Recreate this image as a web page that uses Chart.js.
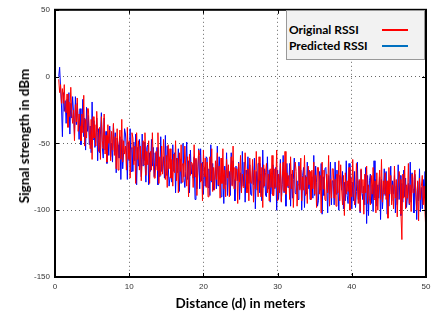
<!DOCTYPE html>
<html><head><meta charset="utf-8">
<script src="https://cdn.jsdelivr.net/npm/chart.js@4/dist/chart.umd.min.js"></script>
<style>
html,body{margin:0;padding:0;background:#fff;}
#wrap{position:relative;width:437px;height:312px;}
#legend{position:absolute;left:286px;top:10px;width:139px;height:50px;background:#f2f2f2;border:1px solid #999;box-sizing:border-box;font-family:Lato,"Open Sans",sans-serif;font-weight:bold;font-size:12px;color:#000;}
#legend .row{position:absolute;left:2px;}
#legend .ln{position:absolute;height:2px;width:26px;left:95px;}
#ytitle{position:absolute;left:24px;top:136px;transform:translate(-50%,-50%) rotate(-90deg);white-space:nowrap;font-family:Lato,"Open Sans",sans-serif;font-weight:bold;font-size:13.5px;color:#000;}
</style></head><body>
<div id="wrap"><canvas id="c" width="437" height="312"></canvas>
<div id="ytitle">Signal strength in dBm</div>
<div id="legend">
<div class="row" style="top:11px">Original RSSI</div><div class="ln" style="top:18px;background:#ff0000"></div>
<div class="row" style="top:27px">Predicted RSSI</div><div class="ln" style="top:34px;background:#0070c0"></div>
</div></div>
<script>
const distances = [
0.5,0.625,0.75,0.875,1,1.125,1.25,1.375,
1.5,1.625,1.75,1.875,2,2.125,2.25,2.375,
2.5,2.625,2.75,2.875,3,3.125,3.25,3.375,
3.5,3.625,3.75,3.875,4,4.125,4.25,4.375,
4.5,4.625,4.75,4.875,5,5.125,5.25,5.375,
5.5,5.625,5.75,5.875,6,6.125,6.25,6.375,
6.5,6.625,6.75,6.875,7,7.125,7.25,7.375,
7.5,7.625,7.75,7.875,8,8.125,8.25,8.375,
8.5,8.625,8.75,8.875,9,9.125,9.25,9.375,
9.5,9.625,9.75,9.875,10,10.125,10.25,10.375,
10.5,10.625,10.75,10.875,11,11.125,11.25,11.375,
11.5,11.625,11.75,11.875,12,12.125,12.25,12.375,
12.5,12.625,12.75,12.875,13,13.125,13.25,13.375,
13.5,13.625,13.75,13.875,14,14.125,14.25,14.375,
14.5,14.625,14.75,14.875,15,15.125,15.25,15.375,
15.5,15.625,15.75,15.875,16,16.125,16.25,16.375,
16.5,16.625,16.75,16.875,17,17.125,17.25,17.375,
17.5,17.625,17.75,17.875,18,18.125,18.25,18.375,
18.5,18.625,18.75,18.875,19,19.125,19.25,19.375,
19.5,19.625,19.75,19.875,20,20.125,20.25,20.375,
20.5,20.625,20.75,20.875,21,21.125,21.25,21.375,
21.5,21.625,21.75,21.875,22,22.125,22.25,22.375,
22.5,22.625,22.75,22.875,23,23.125,23.25,23.375,
23.5,23.625,23.75,23.875,24,24.125,24.25,24.375,
24.5,24.625,24.75,24.875,25,25.125,25.25,25.375,
25.5,25.625,25.75,25.875,26,26.125,26.25,26.375,
26.5,26.625,26.75,26.875,27,27.125,27.25,27.375,
27.5,27.625,27.75,27.875,28,28.125,28.25,28.375,
28.5,28.625,28.75,28.875,29,29.125,29.25,29.375,
29.5,29.625,29.75,29.875,30,30.125,30.25,30.375,
30.5,30.625,30.75,30.875,31,31.125,31.25,31.375,
31.5,31.625,31.75,31.875,32,32.125,32.25,32.375,
32.5,32.625,32.75,32.875,33,33.125,33.25,33.375,
33.5,33.625,33.75,33.875,34,34.125,34.25,34.375,
34.5,34.625,34.75,34.875,35,35.125,35.25,35.375,
35.5,35.625,35.75,35.875,36,36.125,36.25,36.375,
36.5,36.625,36.75,36.875,37,37.125,37.25,37.375,
37.5,37.625,37.75,37.875,38,38.125,38.25,38.375,
38.5,38.625,38.75,38.875,39,39.125,39.25,39.375,
39.5,39.625,39.75,39.875,40,40.125,40.25,40.375,
40.5,40.625,40.75,40.875,41,41.125,41.25,41.375,
41.5,41.625,41.75,41.875,42,42.125,42.25,42.375,
42.5,42.625,42.75,42.875,43,43.125,43.25,43.375,
43.5,43.625,43.75,43.875,44,44.125,44.25,44.375,
44.5,44.625,44.75,44.875,45,45.125,45.25,45.375,
45.5,45.625,45.75,45.875,46,46.125,46.25,46.375,
46.5,46.625,46.75,46.875,47,47.125,47.25,47.375,
47.5,47.625,47.75,47.875,48,48.125,48.25,48.375,
48.5,48.625,48.75,48.875,49,49.125,49.25,49.375,
49.5,49.625,49.75,49.875,50
];
const originalRSSI = [
-2,-12,-6,-20,-9,-20,-6,-26,
-27,-13,-38,-19,-30,-8,-26,-35,
-25,-48,-21,-34,-16,-41,-28,-37,
-48,-28,-42,-14,-52,-32,-46,-24,
-24,-42,-54,-32,-62,-30,-46,-36,
-52,-26,-42,-56,-38,-62,-30,-48,
-54,-28,-58,-44,-64,-36,-50,-40,
-63,-41,-55,-35,-59,-45,-69,-39,
-70,-52,-40,-62,-32,-64,-48,-58,
-52,-70,-38,-62,-48,-76,-54,-42,
-46,-66,-52,-80,-42,-62,-48,-70,
-52,-78,-62,-48,-66,-42,-74,-56,
-66,-48,-80,-56,-70,-42,-64,-76,
-76,-56,-70,-42,-80,-60,-74,-52,
-73,-47,-63,-77,-59,-83,-51,-69,
-54,-76,-62,-82,-58,-72,-48,-78,
-61,-87,-57,-71,-51,-79,-65,-75,
-52,-70,-82,-60,-90,-58,-74,-64,
-65,-83,-51,-75,-61,-89,-67,-55,
-59,-79,-65,-93,-55,-75,-61,-83,
-64,-90,-74,-60,-78,-54,-86,-68,
-85,-63,-77,-57,-81,-67,-91,-61,
-80,-54,-84,-70,-90,-62,-76,-66,
-90,-72,-60,-82,-52,-84,-68,-78,
-69,-95,-65,-79,-59,-87,-73,-83,
-83,-57,-73,-87,-69,-93,-61,-79,
-80,-62,-94,-70,-84,-56,-78,-90,
-60,-78,-90,-68,-98,-66,-82,-72,
-65,-87,-73,-93,-69,-83,-59,-89,
-89,-69,-83,-55,-93,-73,-87,-65,
-94,-76,-64,-86,-56,-88,-72,-82,
-74,-92,-60,-84,-70,-98,-76,-64,
-71,-97,-81,-67,-85,-61,-93,-75,
-85,-59,-89,-75,-95,-67,-81,-71,
-92,-70,-84,-64,-88,-74,-98,-68,
-68,-88,-74,-102,-64,-84,-70,-92,
-93,-73,-87,-59,-97,-77,-91,-69,
-69,-91,-77,-97,-73,-87,-63,-93,
-66,-84,-96,-74,-104,-72,-88,-78,
-86,-68,-100,-76,-90,-62,-84,-96,
-91,-65,-81,-95,-77,-101,-69,-87,
-77,-103,-73,-87,-67,-95,-81,-91,
-96,-74,-88,-68,-92,-78,-102,-72,
-100,-82,-70,-92,-62,-94,-78,-88,
-72,-92,-78,-106,-68,-88,-74,-96,
-81,-99,-67,-91,-77,-105,-83,-71,
-77,-103,-122,-73,-91,-67,-99,-81,
-91,-65,-95,-81,-101,-73,-87,-77,
-70,-88,-100,-78,-108,-76,-92,-82,
-74,-96,-82,-102,-118
];
const predictedRSSI = [
0,7,-8,-22,-45,-12,-26,-18,
-35,-17,-28,-12,-43,-20,-31,-15,
-27,-44,-15,-36,-20,-33,-47,-24,
-51,-39,-17,-45,-31,-55,-23,-41,
-29,-51,-37,-57,-19,-47,-33,-53,
-49,-31,-63,-39,-57,-43,-27,-53,
-61,-31,-55,-41,-65,-45,-59,-37,
-60,-50,-64,-36,-56,-42,-72,-46,
-51,-61,-45,-77,-47,-69,-57,-39,
-43,-55,-77,-49,-63,-39,-71,-53,
-71,-49,-63,-43,-81,-53,-67,-47,
-57,-75,-43,-67,-49,-63,-79,-53,
-51,-81,-57,-71,-47,-67,-53,-75,
-57,-67,-53,-81,-61,-75,-45,-71,
-70,-60,-76,-44,-74,-52,-64,-82,
-75,-65,-79,-51,-71,-57,-87,-61,
-72,-54,-86,-62,-80,-66,-50,-76,
-83,-71,-49,-77,-63,-87,-55,-73,
-66,-76,-60,-92,-62,-84,-72,-54,
-84,-54,-78,-64,-88,-68,-82,-60,
-61,-83,-69,-89,-51,-79,-65,-85,
-78,-68,-84,-52,-82,-60,-72,-90,
-61,-73,-95,-67,-81,-57,-89,-71,
-71,-89,-57,-81,-63,-77,-93,-67,
-68,-78,-64,-92,-72,-86,-56,-82,
-64,-94,-70,-84,-60,-80,-66,-88,
-89,-67,-81,-61,-99,-71,-85,-65,
-65,-87,-73,-93,-55,-83,-69,-89,
-90,-60,-84,-70,-94,-74,-88,-66,
-74,-84,-68,-100,-70,-92,-80,-62,
-93,-81,-59,-87,-73,-97,-65,-83,
-83,-65,-97,-73,-91,-77,-61,-87,
-88,-78,-92,-64,-84,-70,-100,-74,
-68,-98,-74,-88,-64,-84,-70,-92,
-85,-75,-91,-59,-89,-67,-79,-97,
-93,-71,-85,-65,-103,-75,-89,-69,
-68,-80,-102,-74,-88,-64,-96,-78,
-78,-96,-64,-88,-70,-84,-100,-74,
-75,-85,-71,-99,-79,-93,-63,-89,
-95,-65,-89,-75,-99,-79,-93,-71,
-98,-86,-64,-92,-78,-102,-70,-88,
-92,-82,-96,-68,-110,-74,-104,-78,
-73,-95,-81,-101,-63,-91,-77,-97,
-81,-91,-75,-107,-77,-99,-87,-69,
-89,-71,-103,-79,-97,-83,-67,-93,
-78,-88,-74,-102,-82,-96,-66,-92,
-74,-104,-80,-94,-70,-90,-76,-98,
-90,-80,-96,-64,-94,-72,-84,-102,
-73,-85,-107,-79,-93,-69,-101,-83,
-99,-77,-91,-71,-109
];
const xTicks = [0,10,20,30,40,50];
const yTicks = [-150,-100,-50,0,50];
const seriesNames = ['Original RSSI','Predicted RSSI'];

const toPts = arr => arr.map((v,i)=>({x:distances[i], y:v}));

const framePlugin = {
  id:'frame',
  afterDatasetsDraw(chart){
    const {ctx, chartArea:a, scales:{x,y}} = chart;
    ctx.save();
    ctx.strokeStyle = '#000';
    ctx.lineWidth = 1;
    xTicks.forEach(t=>{const p=Math.round(x.getPixelForValue(t))+0.5;
      ctx.beginPath();ctx.moveTo(p,a.top);ctx.lineTo(p,a.top+4);ctx.moveTo(p,a.bottom);ctx.lineTo(p,a.bottom-4);ctx.stroke();});
    yTicks.forEach(t=>{const p=Math.round(y.getPixelForValue(t))+0.5;
      ctx.beginPath();ctx.moveTo(a.left,p);ctx.lineTo(a.left+4,p);ctx.moveTo(a.right,p);ctx.lineTo(a.right-4,p);ctx.stroke();});
    ctx.lineWidth = 2;
    ctx.strokeRect(a.left, a.top, a.right-a.left, a.bottom-a.top);
    ctx.restore();
  }
};

new Chart(document.getElementById('c'), {
  type:'line',
  data:{datasets:[
    {label:seriesNames[0], data:toPts(originalRSSI), borderColor:'#ff0000', borderWidth:1},
    {label:seriesNames[1], data:toPts(predictedRSSI), borderColor:'#0000ff', borderWidth:1}
  ]},
  options:{
    responsive:false, animation:false, maintainAspectRatio:false,
    layout:{padding:{top:9,right:11,left:0,bottom:0}},
    elements:{point:{radius:0}, line:{tension:0}},
    plugins:{legend:{display:false}, tooltip:{enabled:false}},
    scales:{
      x:{type:'linear', min:0, max:50,
        afterBuildTicks(s){s.ticks = xTicks.map(v=>({value:v}));},
        afterFit(s){s.height = 35;},
        ticks:{font:{family:'Liberation Sans', size:8}, color:'#333', padding:5, maxRotation:0},
        grid:{color:'#666', drawTicks:false, lineWidth:1},
        border:{display:false, dash:[1,3]},
        title:{display:true, text:'Distance (d) in meters', font:{family:'Lato', weight:'bold', size:13.5}, color:'#000', padding:{top:0,bottom:0}}
      },
      y:{type:'linear', min:-150, max:50,
        afterBuildTicks(s){s.ticks = yTicks.map(v=>({value:v}));},
        afterFit(s){s.width = 55;},
        ticks:{font:{family:'Liberation Sans', size:8}, color:'#333', padding:5},
        grid:{color:'#666', drawTicks:false, lineWidth:1},
        border:{display:false, dash:[1,3]},
        title:{display:false}
      }
    }
  },
  plugins:[framePlugin]
});
</script></body></html>
